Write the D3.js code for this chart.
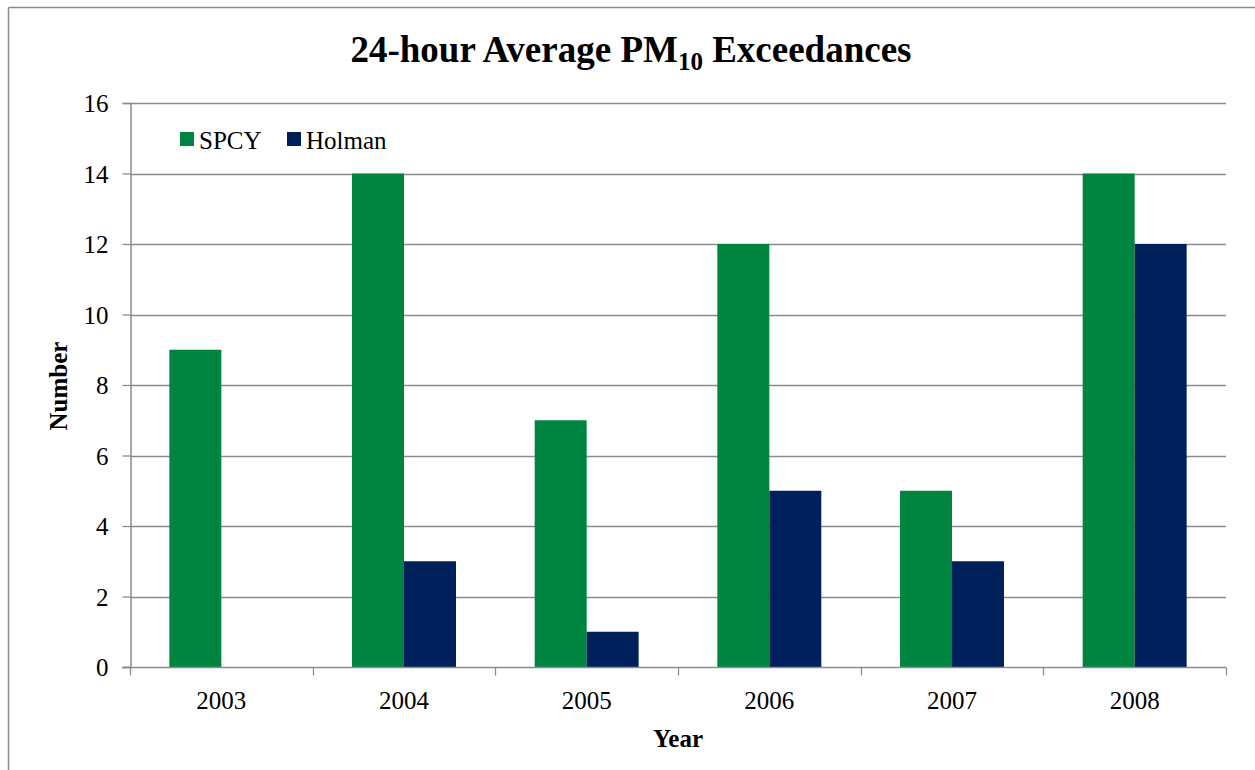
<!DOCTYPE html>
<html>
<head>
<meta charset="utf-8">
<script src="https://cdn.jsdelivr.net/npm/d3@7"></script>
<style>
  html, body { margin: 0; padding: 0; background: #fff; }
  svg { display: block; }
  svg text { font-family: "Liberation Serif", "Times New Roman", Times, serif; fill: #000; }
</style>
</head>
<body>
<svg id="chart" width="1255" height="770"></svg>
<script>
// Yearly exceedance counts for the two monitoring sites
const years = ["2003", "2004", "2005", "2006", "2007", "2008"];
const spcy = [9, 14, 7, 12, 5, 14];
const holman = [0, 3, 1, 5, 3, 12];
const seriesNames = ["SPCY", "Holman"];
const seriesColors = ["#008540", "#00205c"];
const yTicks = [0, 2, 4, 6, 8, 10, 12, 14, 16];

const svg = d3.select("#chart");
const W = 1255, H = 770;
const plot = { left: 130, right: 1226, top: 103, bottom: 667 };
const FONT = '"Liberation Serif", "Times New Roman", Times, serif';
const GRID = "#8c8c8c";

// outer frame of the chart
svg.append("line").attr("x1", 8.5).attr("x2", W).attr("y1", 7.5).attr("y2", 7.5)
  .attr("stroke", GRID).attr("stroke-width", 1.5);
svg.append("line").attr("x1", 8.5).attr("x2", 8.5).attr("y1", 7.5).attr("y2", H)
  .attr("stroke", GRID).attr("stroke-width", 1.5);

const x0 = d3.scaleBand().domain(years).range([plot.left, plot.right]).paddingInner(0).paddingOuter(0);
const x1 = d3.scaleBand().domain(seriesNames)
  .range([0, x0.bandwidth()]).paddingOuter(0.757).paddingInner(0);
const y = d3.scaleLinear().domain([0, 16]).range([plot.bottom, plot.top]);

// horizontal gridlines
svg.append("g").selectAll("line").data(yTicks.filter(d => d > 0)).join("line")
  .attr("x1", plot.left).attr("x2", plot.right)
  .attr("y1", d => Math.round(y(d)) + 0.5).attr("y2", d => Math.round(y(d)) + 0.5)
  .attr("stroke", GRID).attr("stroke-width", 1.3);

// bars
const rows = years.map((yr, i) => ({ year: yr, values: [spcy[i], holman[i]] }));
svg.append("g").selectAll("g").data(rows).join("g")
  .attr("transform", d => `translate(${x0(d.year)},0)`)
  .selectAll("rect").data(d => d.values.map((v, k) => ({ key: seriesNames[k], v, k })))
  .join("rect")
  .attr("x", d => x1(d.key))
  .attr("width", x1.bandwidth())
  .attr("y", d => y(d.v))
  .attr("height", d => y(0) - y(d.v))
  .attr("fill", d => seriesColors[d.k]);

// y axis
const yAxis = svg.append("g").attr("transform", `translate(${plot.left + 0.5},0)`)
  .call(d3.axisLeft(y).tickValues(yTicks).tickSize(8).tickPadding(14).tickFormat(d3.format("d")));
yAxis.attr("font-family", null).attr("font-size", null);
yAxis.select(".domain").attr("stroke", GRID).attr("stroke-width", 1.5);
yAxis.selectAll(".tick line").attr("stroke", GRID).attr("stroke-width", 1.3);
yAxis.selectAll(".tick text").style("font-size", "25px").style("font-family", FONT)
  .attr("dy", "0.34em");

// x axis with ticks at category boundaries
const xAxisG = svg.append("g").attr("transform", `translate(0,${plot.bottom + 0.5})`);
xAxisG.append("line").attr("x1", plot.left - 8).attr("x2", plot.right)
  .attr("stroke", GRID).attr("stroke-width", 1.5);
const boundaries = years.map(yr => x0(yr)).concat([x0(years[years.length - 1]) + x0.bandwidth()]);
xAxisG.selectAll("line.tk").data(boundaries).join("line").attr("class", "tk")
  .attr("x1", d => Math.round(d) + 0.5).attr("x2", d => Math.round(d) + 0.5)
  .attr("y1", 0).attr("y2", 8).attr("stroke", GRID).attr("stroke-width", 1.3);
xAxisG.selectAll("text").data(years).join("text")
  .attr("x", d => x0(d) + x0.bandwidth() / 2).attr("y", 41)
  .attr("text-anchor", "middle").style("font-size", "25px").style("font-family", FONT)
  .text(d => d);

// title with subscript
const title = svg.append("text").attr("x", 631).attr("y", 62).attr("text-anchor", "middle")
  .style("font-size", "37px").style("font-weight", "bold").style("font-family", FONT);
title.append("tspan").text("24-hour Average PM");
title.append("tspan").style("font-size", "25px").attr("dy", 8).text("10");
title.append("tspan").attr("dy", -8).text(" Exceedances");

// axis titles
svg.append("text").attr("x", 678).attr("y", 747).attr("text-anchor", "middle")
  .style("font-size", "25px").style("font-weight", "bold").style("font-family", FONT).text("Year");
svg.append("text").attr("transform", "translate(67,386) rotate(-90)").attr("text-anchor", "middle")
  .style("font-size", "25px").style("font-weight", "bold").style("font-family", FONT).text("Number");

// legend
const legend = svg.append("g").selectAll("g").data(seriesNames).join("g")
  .attr("transform", (d, i) => `translate(${[180, 287][i]},132)`);
legend.append("rect").attr("width", 14).attr("height", 14).attr("fill", (d, i) => seriesColors[i]);
legend.append("text").attr("x", 19).attr("y", 17).style("font-size", "25px").style("font-family", FONT)
  .text(d => d);
</script>
</body>
</html>
